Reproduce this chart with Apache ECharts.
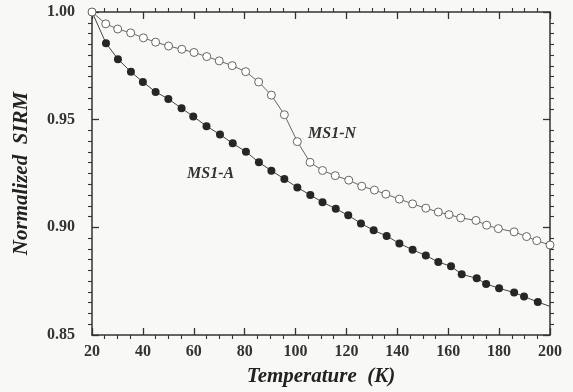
<!DOCTYPE html>
<html>
<head>
<meta charset="utf-8">
<script src="https://cdn.jsdelivr.net/npm/echarts@6/dist/echarts.min.js"></script>
<style>
html,body{margin:0;padding:0;background:#f8f8f6;}
#chart{width:573px;height:392px;}
</style>
</head>
<body>
<div id="chart"></div>
<script>
// MS1-A (filled circles)
var tempA = [20,25.5,30.2,35.3,40,45,50,55.2,59.8,65,70.3,75.3,80.5,85.6,90.5,95.6,100.7,105.8,110.6,115.8,120.7,125.7,130.7,135.8,140.8,146,151.2,156.1,161.1,165.3,171.2,174.9,180,185.9,189.8,195.2,200];
var sirmA = [1.000,0.9855,0.9781,0.9722,0.9675,0.9629,0.9596,0.9553,0.9515,0.9470,0.9431,0.9390,0.9351,0.9302,0.9263,0.9225,0.9185,0.9150,0.9117,0.9086,0.9056,0.9018,0.8986,0.8960,0.8925,0.8896,0.8869,0.8839,0.8819,0.8782,0.8763,0.8737,0.8717,0.8697,0.8679,0.8653,0.8633];
// MS1-N (open circles)
var tempN = [20,25.4,30.1,35.2,40.2,45,50.1,55.3,60.1,65.1,70,75.1,80.4,85.5,90.5,95.6,100.7,105.7,110.6,115.6,120.9,126,131,135.5,140.8,146,151.2,156.1,160.3,164.9,170.9,175.1,179.7,185.9,190.8,194.8,200];
var sirmN = [1.000,0.9945,0.9921,0.9903,0.9880,0.9860,0.9842,0.9827,0.9812,0.9793,0.9773,0.9751,0.9723,0.9675,0.9614,0.9523,0.9398,0.9302,0.9264,0.9240,0.9219,0.9191,0.9173,0.9154,0.9131,0.9109,0.9089,0.9071,0.9059,0.9044,0.9032,0.9010,0.8994,0.8979,0.8957,0.8938,0.8918];
var seriesNames = ['MS1-A','MS1-N'];
var xTicks = [20,40,60,80,100,120,140,160,180,200];
var yTicks = [0.85,0.90,0.95,1.00];

var serif = '"Liberation Serif","DejaVu Serif",serif';
var chart = echarts.init(document.getElementById('chart'), null, {renderer:'canvas'});

function pairs(xs, ys, hideLast){
  return xs.map(function(x,i){
    var d = {value:[x, ys[i]]};
    if (hideLast && i === xs.length-1) d.symbol = 'none';
    return d;
  });
}

var axisLine = {show:true, lineStyle:{color:'#333', width:1.5}};
var tickBase = {show:true, inside:true, length:7, lineStyle:{color:'#333', width:1.3}};
var minorBase = {show:true, length:-4, lineStyle:{color:'#333', width:1.1}};

var xMain = {
  type:'value', min:xTicks[0], max:xTicks[xTicks.length-1], interval:20,
  position:'bottom',
  axisLine:axisLine, axisTick:tickBase,
  minorTick:Object.assign({splitNumber:4}, minorBase),
  splitLine:{show:false},
  axisLabel:{color:'#333', fontFamily:serif, fontWeight:'bold', fontSize:16, margin:9},
  name:'Temperature  (K)', nameLocation:'middle', nameGap:31,
  nameTextStyle:{color:'#222', fontFamily:serif, fontWeight:'bold', fontStyle:'italic', fontSize:21}
};
var xTop = {
  type:'value', min:xTicks[0], max:xTicks[xTicks.length-1], interval:20,
  position:'top',
  axisLine:axisLine, axisTick:tickBase,
  minorTick:Object.assign({splitNumber:4}, minorBase),
  splitLine:{show:false}, axisLabel:{show:false}
};
var yMain = {
  type:'value', min:yTicks[0], max:yTicks[yTicks.length-1], interval:0.05,
  position:'left',
  axisLine:axisLine, axisTick:tickBase,
  minorTick:Object.assign({splitNumber:10}, minorBase),
  splitLine:{show:false},
  axisLabel:{color:'#333', fontFamily:serif, fontWeight:'bold', fontSize:16, margin:17,
    formatter:function(v){return v.toFixed(2);}},
  name:'Normalized  SIRM', nameLocation:'middle', nameGap:60,
  nameTextStyle:{color:'#222', fontFamily:serif, fontWeight:'bold', fontStyle:'italic', fontSize:21}
};
var yRight = {
  type:'value', min:yTicks[0], max:yTicks[yTicks.length-1], interval:0.05,
  position:'right',
  axisLine:axisLine, axisTick:tickBase,
  minorTick:Object.assign({splitNumber:10}, minorBase),
  splitLine:{show:false}, axisLabel:{show:false}
};

var option = {
  backgroundColor:'#f8f8f6',
  animation:false,
  grid:{left:92, right:23, top:12, bottom:51, containLabel:false},
  xAxis:[xMain, xTop],
  yAxis:[yMain, yRight],
  series:[
    {
      name:seriesNames[0], type:'line', xAxisIndex:0, yAxisIndex:0,
      data:pairs(tempA, sirmA, true),
      symbol:'circle', symbolSize:8, showAllSymbol:true,
      lineStyle:{color:'#444', width:1},
      itemStyle:{color:'#262626', borderColor:'#262626', borderWidth:0},
      z:2
    },
    {
      name:seriesNames[1], type:'line', xAxisIndex:0, yAxisIndex:0,
      data:pairs(tempN, sirmN, false),
      symbol:'circle', symbolSize:8, showAllSymbol:true,
      lineStyle:{color:'#666', width:1},
      itemStyle:{color:'#ffffff', borderColor:'#666', borderWidth:1},
      z:3
    }
  ],
  graphic:[
    {type:'text', left:187, top:166, style:{text:seriesNames[0], fill:'#333', font:'italic bold 16px ' + serif}},
    {type:'text', left:308, top:126, style:{text:seriesNames[1], fill:'#333', font:'italic bold 16px ' + serif}}
  ]
};
chart.setOption(option);
</script>
</body>
</html>
